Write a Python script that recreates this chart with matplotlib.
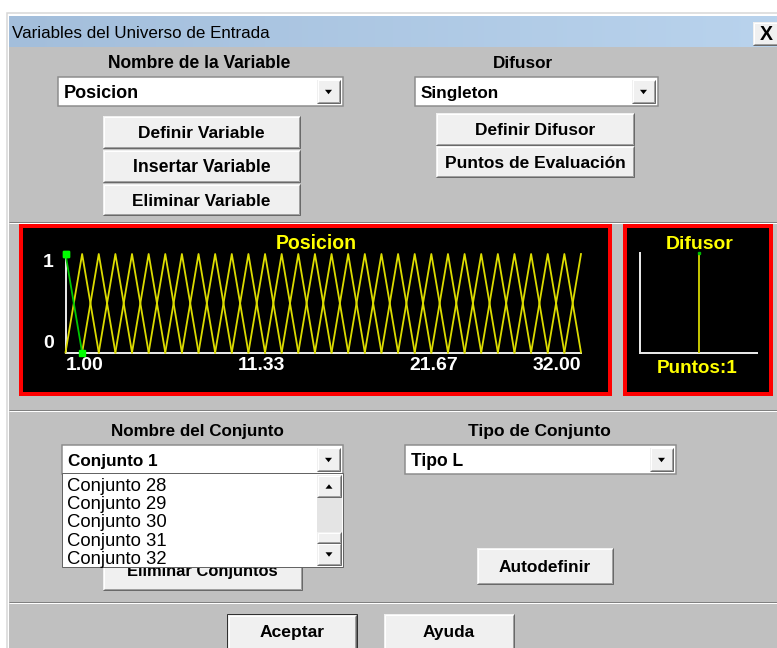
import matplotlib
matplotlib.use('Agg')
import matplotlib.pyplot as plt
from matplotlib import font_manager as fm
from matplotlib.font_manager import FontProperties
from matplotlib.patches import Rectangle, Polygon
import numpy as np

# ---------------- data ----------------
window_title = 'Variables del Universo de Entrada'
variable_label = 'Nombre de la Variable'
fuzzifier_label = 'Difusor'
variable_name = 'Posicion'
fuzzifier_name = 'Singleton'
variable_buttons = ['Definir Variable', 'Insertar Variable', 'Eliminar Variable']
fuzzifier_buttons = ['Definir Difusor', 'Puntos de Evaluación']
set_label = 'Nombre del Conjunto'
set_type_label = 'Tipo de Conjunto'
selected_set = 'Conjunto 1'
selected_set_type = 'Tipo L'
visible_set_items = ['Conjunto 28', 'Conjunto 29', 'Conjunto 30', 'Conjunto 31', 'Conjunto 32']

universe_min = 1.00
universe_max = 32.00
x_tick_values = [1.00, 11.33, 21.67, 32.00]
x_tick_labels = ['1.00', '11.33', '21.67', '32.00']
y_tick_values = [0, 1]
y_tick_labels = ['0', '1']

set_types = ['L', 'T', 'T', 'T', 'T', 'T', 'T', 'T', 'T', 'T', 'T', 'T', 'T', 'T', 'T', 'T',
             'T', 'T', 'T', 'T', 'T', 'T', 'T', 'T', 'T', 'T', 'T', 'T', 'T', 'T', 'T', 'R']
set_left = [1, 1, 2, 3, 4, 5, 6, 7, 8, 9, 10, 11, 12, 13, 14, 15,
            16, 17, 18, 19, 20, 21, 22, 23, 24, 25, 26, 27, 28, 29, 30, 31]
set_peak = [1, 2, 3, 4, 5, 6, 7, 8, 9, 10, 11, 12, 13, 14, 15, 16,
            17, 18, 19, 20, 21, 22, 23, 24, 25, 26, 27, 28, 29, 30, 31, 32]
set_right = [2, 3, 4, 5, 6, 7, 8, 9, 10, 11, 12, 13, 14, 15, 16, 17,
             18, 19, 20, 21, 22, 23, 24, 25, 26, 27, 28, 29, 30, 31, 32, 32]
shape_membership = {'L': [1, 1, 0], 'T': [0, 1, 0], 'R': [0, 1, 1]}
active_set = 0

fuzzifier_points = [0.5]
fuzzifier_heights = [1.0]
fuzzifier_count_label = 'Puntos:1'

# ---------------- fonts ----------------
names = {f.name for f in fm.fontManager.ttflist}
UI_FAMILY = 'Liberation Sans' if 'Liberation Sans' in names else 'DejaVu Sans'
CH_FAMILY = UI_FAMILY

# ---------------- figure ----------------
W, H, DPI = 777, 648, 100
PX = 72.0 / DPI
fig = plt.figure(figsize=(W / DPI, H / DPI), dpi=DPI)
fig.patch.set_facecolor('white')
ui = fig.add_axes([0, 0, 1, 1])
ui.set_xlim(0, W)
ui.set_ylim(H, 0)
ui.axis('off')
REND = fig.canvas.get_renderer()


def box(x0, y0, x1, y1, fc, ec='none', lw=0, z=1, hatch=None):
    ui.add_patch(Rectangle((x0, y0), x1 - x0, y1 - y0, facecolor=fc, edgecolor=ec,
                           linewidth=lw * PX, zorder=z, hatch=hatch))


def seg(xs, ys, c, lw=1, z=2):
    ui.plot(xs, ys, color=c, lw=lw * PX, solid_capstyle='butt',
            solid_joinstyle='miter', zorder=z)


def fit(s, w, family, weight):
    prop = FontProperties(family=family, weight=weight, size=10)
    tw, th, td = REND.get_text_width_height_descent(s, prop, ismath=False)
    return 10.0 * w / tw


def label(x, yc, s, w, weight='bold', color='black', ha='center', family=None, z=4):
    fam = family or UI_FAMILY
    size = fit(s, w, fam, weight)
    cap = 0.716 * size / PX
    ui.text(x, yc + cap / 2.0, s, fontsize=size, fontweight=weight, color=color,
            ha=ha, va='baseline', family=fam, zorder=z)


def frame(x0, y0, x1, y1, z=2, face='#f0f0f0'):
    box(x0, y0, x1, y1, face, z=z)
    seg([x0 + 0.5, x0 + 0.5, x1 - 1], [y1 - 1, y0 + 0.5, y0 + 0.5], '#ffffff', 1, z + 0.1)
    seg([x0, x1 - 0.5, x1 - 0.5], [y1 - 0.5, y1 - 0.5, y0], '#696969', 1, z + 0.1)
    seg([x0 + 1, x1 - 1.5, x1 - 1.5], [y1 - 1.5, y1 - 1.5, y0 + 1], '#a0a0a0', 1, z + 0.1)


def tri(cx, cy, down=True, z=3):
    d = 2.2 if down else -2.2
    ui.add_patch(Polygon([[cx - 3.5, cy - d], [cx + 3.5, cy - d], [cx, cy + d]],
                         closed=True, facecolor='black', edgecolor='none', zorder=z))


def button(x0, y0, x1, y1, text, tw, tx=None, ty=None, z=2, default=False):
    if default:
        box(x0, y0, x1, y1, '#f0f0f0', ec='#303030', lw=1, z=z)
        frame(x0 + 1, y0 + 1, x1 - 1, y1 - 1, z=z + 0.2)
    else:
        frame(x0, y0, x1, y1, z=z)
    label(tx if tx is not None else (x0 + x1) / 2.0,
          ty if ty is not None else (y0 + y1) / 2.0, text, tw, z=z + 0.5)


def combo(x0, y0, x1, y1, text, tw, z=2):
    box(x0, y0, x1, y1, '#ffffff', ec='#8c8c8c', lw=1.5, z=z)
    frame(x1 - 26, y0 + 2.5, x1 - 2.5, y1 - 2.5, z=z + 0.2)
    tri(x1 - 14.5, (y0 + y1) / 2.0 + 0.5, z=z + 0.4)
    label(x0 + 6, (y0 + y1) / 2.0, text, tw, ha='left', z=z + 0.5)


def separator(y):
    seg([9, W], [y + 0.5, y + 0.5], '#808080', 1, 2)
    seg([9, W], [y + 1.5, y + 1.5], '#ffffff', 1, 2)


# window frame + title bar
box(7, 13, W + 2, H + 2, '#ffffff', ec='#d6d6d6', lw=1.5, z=0.5)
grad = np.linspace(0, 1, 256)
c0 = np.array([0xa3, 0xbe, 0xdb]) / 255.0
c1 = np.array([0xb9, 0xd3, 0xed]) / 255.0
img = (c0[None, :] * (1 - grad[:, None]) + c1[None, :] * grad[:, None])[None, :, :]
ui.imshow(img, extent=(9, W, 47, 16.5), aspect='auto', interpolation='bilinear', zorder=0.8)
box(9, 47, W, H, '#c0c0c0', z=0.9)
ui.set_xlim(0, W)
ui.set_ylim(H, 0)
label(12, 32, window_title, 258, weight='normal', ha='left')
frame(753, 22, W + 3, 45, z=2)
label(766, 33.5, 'X', 13)

# top section
label(199, 62, variable_label, 183)
label(523, 62, fuzzifier_label, 60)
combo(58, 77, 343, 106, variable_name, 75)
combo(415, 77, 658, 106, fuzzifier_name, 78)
button(103, 116, 300, 148, variable_buttons[0], 127)
button(103, 150, 300, 182, variable_buttons[1], 137)
button(103, 184, 300, 215, variable_buttons[2], 138)
button(436, 113, 634, 145, fuzzifier_buttons[0], 120)
button(436, 146, 634, 177, fuzzifier_buttons[1], 181)
separator(221)

# chart panels
box(21, 226, 610, 394, '#000000', ec='#ff0000', lw=4, z=1.5)
box(625, 226, 771, 394, '#000000', ec='#ff0000', lw=4, z=1.5)
label(316, 242, variable_name, 81, color='#ffff00', family=CH_FAMILY)
label(700, 242, fuzzifier_label, 68, color='#ffff00', family=CH_FAMILY)
label(697, 366, fuzzifier_count_label, 81, color='#ffff00', family=CH_FAMILY)

separator(409)

# bottom section
label(197, 430, set_label, 173)
label(539, 430, set_type_label, 142)
combo(62, 445, 343, 474, selected_set, 89)
combo(405, 445, 676, 474, selected_set_type, 52)
button(103, 558, 302, 590, 'Eliminar Conjuntos', 151, ty=570)
button(477, 548, 613, 584, 'Autodefinir', 92)

# open dropdown list
box(62, 473, 343, 567, '#ffffff', ec='#646464', lw=1, z=6)
for i, item in enumerate(visible_set_items):
    label(67, 484 + i * 18.3, item, 100, weight='normal', ha='left', z=7)
box(317, 497, 341.5, 532, '#e4e4e4', z=6.5)
frame(317, 475, 341.5, 497, z=6.6)
tri(329, 486.5, down=False, z=7)
frame(317, 532, 341.5, 543, z=6.6)
frame(317, 543, 341.5, 565.5, z=6.6)
tri(329, 554.5, down=True, z=7)

separator(601)
button(227, 614, 357, 650, 'Aceptar', 65, ty=631, default=True)
button(384, 614, 514, 650, 'Ayuda', 52, ty=631)


# ---------------- chart axes ----------------
def fig_axes(x0, y0, x1, y1):
    a = fig.add_axes([x0 / W, 1 - y1 / H, (x1 - x0) / W, (y1 - y0) / H])
    a.patch.set_alpha(0)
    for sp in ['top', 'right']:
        a.spines[sp].set_visible(False)
    for sp in ['left', 'bottom']:
        a.spines[sp].set_color('#e6e6e6')
        a.spines[sp].set_linewidth(2 * PX)
    return a


ax = fig_axes(65.5, 254, 581, 352.5)
ax.set_xlim(universe_min, universe_max)
ax.set_ylim(0, 1)
for i in range(len(set_peak)):
    xs = [set_left[i], set_peak[i], set_right[i]]
    ys = shape_membership[set_types[i]]
    if i == active_set:
        continue
    ax.plot(xs, ys, color='#dcdc00', lw=1.3, clip_on=False, zorder=3)
xs = [set_left[active_set], set_peak[active_set], set_right[active_set]]
ys = shape_membership[set_types[active_set]]
ax.plot(xs, ys, color='#00c800', lw=1.3, clip_on=False, zorder=4,
        marker='s', markersize=4.5, markerfacecolor='#00ff00', markeredgecolor='#00ff00')

tick_size = fit('1.00', 38, CH_FAMILY, 'bold')
ax.set_xticks(x_tick_values)
ax.set_xticklabels(x_tick_labels)
ax.set_yticks(y_tick_values)
ax.set_yticklabels(y_tick_labels)
ax.tick_params(axis='both', length=0, labelcolor='white', labelsize=tick_size)
ax.tick_params(axis='x', pad=3.5)
ax.tick_params(axis='y', pad=8.5)
for lbl, ha in zip(ax.get_xticklabels(), ['left', 'left', 'left', 'right']):
    lbl.set_ha(ha)
    lbl.set_fontweight('bold')
    lbl.set_family(CH_FAMILY)
for lbl, va in zip(ax.get_yticklabels(), ['bottom', 'top']):
    lbl.set_va(va)
    lbl.set_fontweight('bold')
    lbl.set_family(CH_FAMILY)

ax2 = fig_axes(640, 253, 757, 353)
ax2.set_xlim(0, 1)
ax2.set_ylim(0, 1)
ax2.set_xticks([])
ax2.set_yticks([])
ax2.vlines(fuzzifier_points, 0, fuzzifier_heights, color='#d8d800', lw=1.3, zorder=3)
ax2.plot(fuzzifier_points, fuzzifier_heights, 's', color='#00c000', markersize=2, clip_on=False, zorder=4)

fig.savefig('out.png', dpi=DPI, facecolor='white')
